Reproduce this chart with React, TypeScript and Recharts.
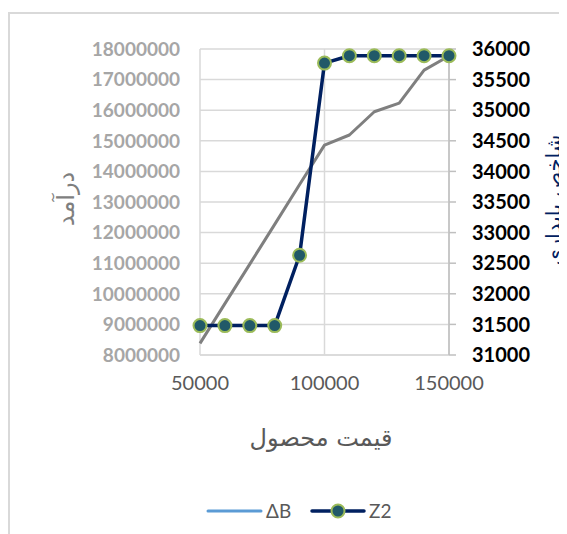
import { LineChart, Line, XAxis, YAxis, CartesianGrid, Legend } from 'recharts';

const prices = [50000, 60000, 70000, 80000, 90000, 100000, 110000, 120000, 130000, 140000, 150000];
const deltaB = [8380000, 9680000, 10970000, 12270000, 13570000, 14860000, 15190000, 15950000, 16230000, 17310000, 17770000];
const z2 = [31480, 31480, 31480, 31480, 32630, 35770, 35890, 35890, 35890, 35890, 35890];

const xTicks = [50000, 100000, 150000];
const leftTicks = [8000000, 9000000, 10000000, 11000000, 12000000, 13000000, 14000000, 15000000, 16000000, 17000000, 18000000];
const rightTicks = [31000, 31500, 32000, 32500, 33000, 33500, 34000, 34500, 35000, 35500, 36000];

const data = prices.map((price, i) => ({ price, deltaB: deltaB[i], z2: z2[i] }));

const NUM_FONT = 'Lato, "Open Sans", sans-serif';
const FA_FONT = '"DejaVu Sans", "Noto Sans", sans-serif';

function LegendBox() {
  return (
    <svg width={200} height={24} style={{ display: 'block' }}>
      <line x1={2} y1={12} x2={55} y2={12} stroke="#5B9BD5" strokeWidth={3} strokeLinecap="round" />
      <text x={60} y={18.5} fontSize={19} fill="#595959" fontFamily={NUM_FONT}>ΔB</text>
      <line x1={106} y1={12} x2={158} y2={12} stroke="#002060" strokeWidth={3.5} strokeLinecap="round" />
      <circle cx={132} cy={12} r={6.5} fill="#215968" stroke="#9BBB59" strokeWidth={2} />
      <text x={163} y={18.5} fontSize={19} fill="#595959" fontFamily={NUM_FONT}>Z2</text>
    </svg>
  );
}

export default function App() {
  return (
    <div style={{ position: 'relative', width: 559, height: 526 }}>
      <div
        style={{
          position: 'absolute',
          left: 0,
          top: 4,
          right: -8,
          bottom: -8,
          borderLeft: '2px solid #D9D9D9',
          borderTop: '2px solid #D9D9D9',
        }}
      />
      <LineChart
        width={559}
        height={526}
        data={data}
        margin={{ top: 41, right: 48, left: 92, bottom: 139 }}
        style={{ position: 'absolute', left: 0, top: 0 }}
      >
        <CartesianGrid stroke="#D9D9D9" strokeWidth={1.5} yAxisId="left" xAxisId="x" />
        <XAxis
          xAxisId="x"
          dataKey="price"
          type="number"
          domain={[50000, 150000]}
          ticks={xTicks}
          tickLine={false}
          axisLine={{ stroke: '#D9D9D9', strokeWidth: 1.5 }}
          tickSize={0}
          tickMargin={21}
          height={40}
          tick={{ fill: '#595959', fontSize: 20, fontFamily: NUM_FONT }}
        />
        <YAxis
          yAxisId="left"
          orientation="left"
          domain={[8000000, 18000000]}
          ticks={leftTicks}
          width={100}
          axisLine={false}
          tickLine={false}
          tickSize={0}
          tickMargin={20}
          tick={{ fill: '#A6A6A6', fontSize: 19, fontWeight: 700, fontFamily: NUM_FONT }}
        />
        <YAxis
          yAxisId="right"
          orientation="right"
          domain={[31000, 36000]}
          ticks={rightTicks}
          width={70}
          axisLine={{ stroke: '#BFBFBF', strokeWidth: 1.5 }}
          tickLine={{ stroke: '#BFBFBF', strokeWidth: 1.5 }}
          tickSize={7}
          tickMargin={16}
          tick={{ fill: '#000000', fontSize: 20, fontWeight: 700, fontFamily: NUM_FONT }}
        />
        <Line
          xAxisId="x"
          yAxisId="left"
          dataKey="deltaB"
          name="ΔB"
          type="linear"
          stroke="#7F7F7F"
          strokeWidth={3}
          strokeLinejoin="round"
          dot={false}
          isAnimationActive={false}
        />
        <Line
          xAxisId="x"
          yAxisId="right"
          dataKey="z2"
          name="Z2"
          type="linear"
          stroke="#002060"
          strokeWidth={3.5}
          strokeLinejoin="round"
          dot={{ r: 6.5, fill: '#215968', stroke: '#9BBB59', strokeWidth: 2 }}
          isAnimationActive={false}
        />
        <Legend
          layout="horizontal"
          verticalAlign="middle"
          align="center"
          wrapperStyle={{ top: 491, left: 198, width: 200 }}
          content={() => <LegendBox />}
        />
        <text
          x={58}
          y={191}
          transform="rotate(-90, 58, 191)"
          textAnchor="middle"
          dominantBaseline="central"
          fontSize={24}
          fill="#7F7F7F"
          fontFamily={FA_FONT}
        >
          درآمد
        </text>
        <text
          x={546}
          y={192}
          transform="rotate(-90, 546, 192)"
          textAnchor="middle"
          dominantBaseline="central"
          fontSize={21}
          fill="#002060"
          fontFamily={FA_FONT}
        >
          شاخص پایداری
        </text>
        <text
          x={313}
          y={430}
          textAnchor="middle"
          dominantBaseline="central"
          fontSize={24}
          fill="#595959"
          fontFamily={FA_FONT}
        >
          قیمت محصول
        </text>
      </LineChart>
    </div>
  );
}
